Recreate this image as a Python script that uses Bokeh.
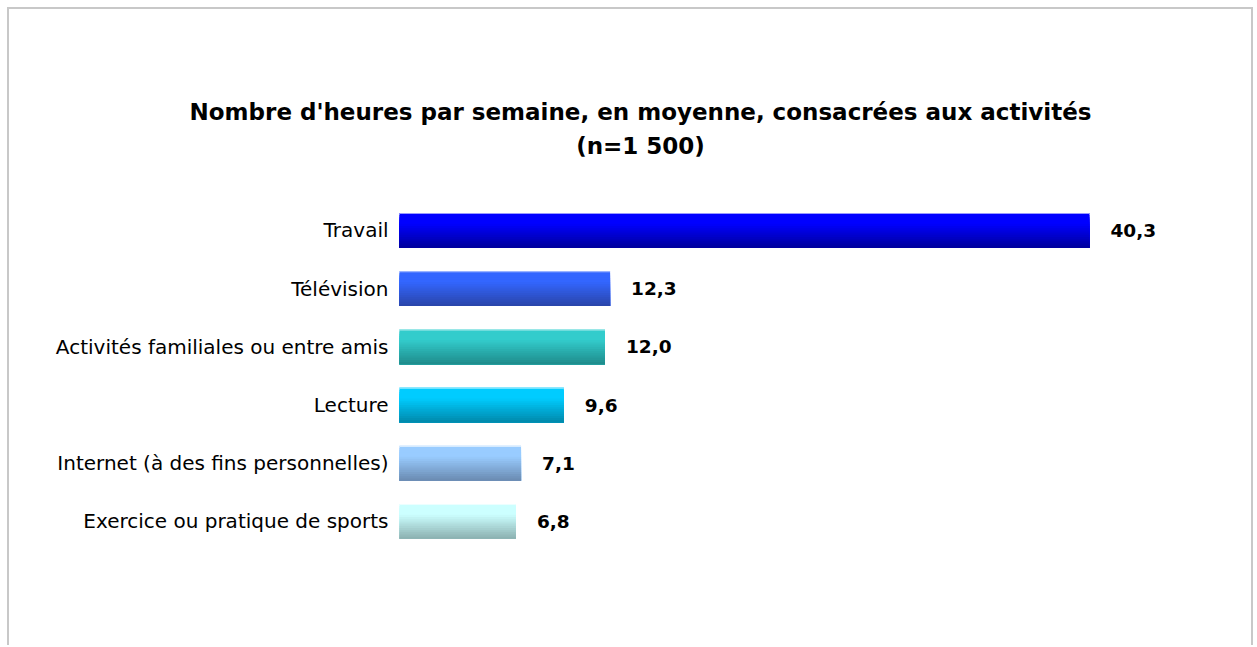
from bokeh.plotting import figure
from bokeh.models import ColumnDataSource, Range1d, Label
from bokeh.transform import dodge
from bokeh.core.properties import value
from bokeh.embed import file_html
from bokeh.resources import INLINE

categories = ["Travail", "Télévision", "Activités familiales ou entre amis",
              "Lecture", "Internet (à des fins personnelles)", "Exercice ou pratique de sports"]
hours = [40.3, 12.3, 12.0, 9.6, 7.1, 6.8]
title_line1 = "Nombre d'heures par semaine, en moyenne, consacrées aux activités"
title_line2 = "(n=1 500)"

top_colors = ["#0000FF", "#3366FF", "#33CCCC", "#00CCFF", "#99CCFF", "#CCFFFF"]
bottom_colors = ["#00009A", "#2A44A8", "#1E8A8A", "#0088AA", "#6A8AB0", "#8AAFAF"]


def hex2rgb(h):
    h = h.lstrip("#")
    return tuple(int(h[i:i + 2], 16) for i in (0, 2, 4))


def mix(a, b, t):
    ra, rb = hex2rgb(a), hex2rgb(b)
    return "#%02x%02x%02x" % tuple(int(round(ra[k] + (rb[k] - ra[k]) * t)) for k in range(3))


n = len(categories)
positions = [n - 1 - i for i in range(n)]  # first category on top

N_BANDS = 16
BAR_H = 0.6
band_h = BAR_H / N_BANDS

data = dict(cat=categories, pos=positions, val=hours, base=[0] * n,
            lbl=[("%.1f" % v).replace(".", ",") for v in hours],
            hl=[mix(tc, "#FFFFFF", 0.6) for tc in top_colors])
for i in range(N_BANDS):
    frac = (i + 0.5) / N_BANDS
    t = 0.0 if frac < 0.3 else (frac - 0.3) / 0.7
    data["c%d" % i] = [mix(tc, bc, t) for tc, bc in zip(top_colors, bottom_colors)]
source = ColumnDataSource(data)

PX_PER_UNIT = 17.12
p = figure(width=1246, height=638,
           y_range=Range1d(-0.5, -0.5 + 541 / 58.2),
           x_range=Range1d(-390 / PX_PER_UNIT, 800 / PX_PER_UNIT),
           output_backend="svg", toolbar_location=None,
           min_border_left=0, min_border_right=56,
           min_border_top=0, min_border_bottom=97,
           styles={"margin-left": "7px", "margin-top": "7px",
                   "border-top": "2px solid #c8c8c8",
                   "border-left": "2px solid #c8c8c8",
                   "border-right": "2px solid #c8c8c8"})
p.title = None

for txt, ys in ((title_line1, 439), (title_line2, 405)):
    p.add_layout(Label(text=txt, x=631, y=ys, x_units="screen", y_units="screen",
                       text_align="center", text_baseline="alphabetic",
                       text_font="DejaVu Sans", text_font_size="23px",
                       text_font_style="bold", text_color="#000000"))

bottom = -BAR_H / 2
for i in range(N_BANDS):
    top = BAR_H / 2 - i * band_h
    p.hbar(y=dodge("pos", (top + bottom) / 2), left="base", right="val",
           height=top - bottom, fill_color="c%d" % i, line_color=None,
           source=source)
p.hbar(y=dodge("pos", BAR_H / 2 - 0.01), left="base", right="val",
       height=0.02, fill_color="hl", line_color=None, source=source)

# value labels
p.text(x="val", y="pos", text="lbl", x_offset=21, source=source,
       text_baseline="middle", text_align="left",
       text_font=value("DejaVu Sans"), text_font_style="bold",
       text_font_size="18.5px", text_color="#000000")

# category labels
p.text(x="base", y="pos", text="cat", x_offset=-11, source=source,
       text_baseline="middle", text_align="right",
       text_font=value("DejaVu Sans"), text_font_size="20px",
       text_color="#000000")

p.xaxis.visible = False
p.yaxis.visible = False
p.xgrid.visible = False
p.ygrid.visible = False
p.outline_line_color = None

open("out.html", "w").write(file_html(p, INLINE))
